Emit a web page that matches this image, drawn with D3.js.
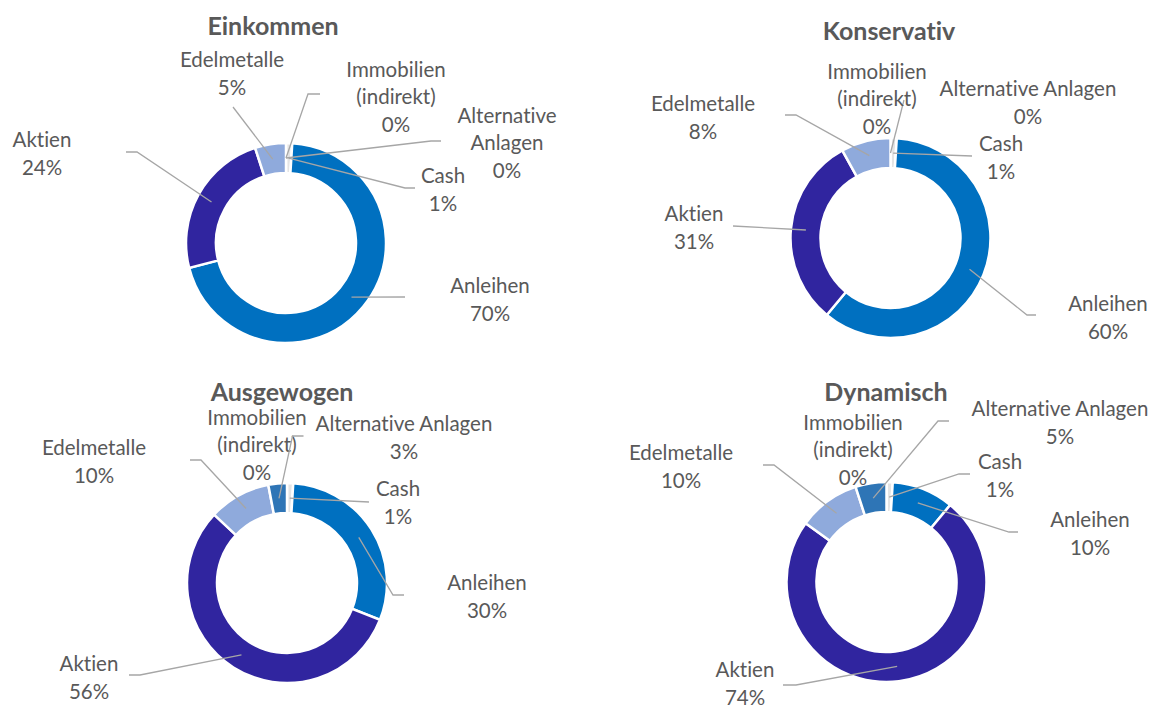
<!DOCTYPE html>
<html lang="de">
<head>
<meta charset="utf-8"/>
<style>
  body { margin: 0; background: #FFFFFF; }
  svg { display: block; }
  text { font-variant-ligatures: none; font-feature-settings: "liga" 0, "clig" 0; }
  .title { font-family: "Lato", "Open Sans", sans-serif; font-weight: bold; font-size: 25px; fill: #595959; }
  .lbl { font-family: "Lato", "Open Sans", sans-serif; font-size: 20.5px; fill: #595959; }
  .leader { fill: none; stroke: #A6A6A6; stroke-width: 1.3; }
</style>
</head>
<body>
<svg id="chart" width="1154" height="709"></svg>

<script src="https://d3js.org/d3.v7.min.js"></script>
<script>
// data (percent of each portfolio)
let categories = ["Cash", "Anleihen", "Aktien", "Edelmetalle", "Immobilien (indirekt)", "Alternative Anlagen"]
let portfolios = ["Einkommen", "Konservativ", "Ausgewogen", "Dynamisch"]
let einkommen   = [1, 70, 24, 5, 0, 0]
let konservativ = [1, 60, 31, 8, 0, 0]
let ausgewogen  = [1, 30, 56, 10, 0, 3]
let dynamisch   = [1, 10, 74, 10, 0, 5]
let values = [einkommen, konservativ, ausgewogen, dynamisch]

let colors = ["#E4E4E4", "#0070C0", "#30259F", "#8FAADC", "#A5A5A5", "#2E75B6"]

// where each donut and its labels sit (label x/y = middle of the text block)
let layout = [
  { cx: 286, cy: 243, title: [273, 25], labels: [
      { x: 443, y: 189, lines: ["Cash"], leader: [[405, 188], [415, 188]] },
      { x: 490, y: 299, lines: ["Anleihen"], leader: [[405, 297]] },
      { x: 42, y: 153, lines: ["Aktien"], leader: [[137, 152], [126, 152]] },
      { x: 232, y: 73, lines: ["Edelmetalle"], leader: [[233, 107]] },
      { x: 396, y: 96, lines: ["Immobilien", "(indirekt)"], leader: [[308, 94], [320, 94]] },
      { x: 507, y: 142, lines: ["Alternative", "Anlagen"], leader: [[431, 141], [441, 141]] } ] },
  { cx: 890.5, cy: 238, title: [889, 30], labels: [
      { x: 1001, y: 157, lines: ["Cash"], leader: [[972, 156]] },
      { x: 1108, y: 317, lines: ["Anleihen"], leader: [[1027, 315], [1036, 315]] },
      { x: 694, y: 227, lines: ["Aktien"], leader: [[733, 226]] },
      { x: 703, y: 117, lines: ["Edelmetalle"], leader: [[796, 115], [785, 115]] },
      { x: 877, y: 98, lines: ["Immobilien", "(indirekt)"], leader: [[904, 100]] },
      { x: 1028, y: 102, lines: ["Alternative Anlagen"], leader: null } ] },
  { cx: 287, cy: 583, title: [282, 391], labels: [
      { x: 398, y: 502, lines: ["Cash"], leader: [[369, 502]] },
      { x: 487, y: 596, lines: ["Anleihen"], leader: [[393, 595], [404, 595]] },
      { x: 89, y: 677, lines: ["Aktien"], leader: [[140, 675], [129, 675]] },
      { x: 94, y: 461, lines: ["Edelmetalle"], leader: [[201, 460], [190, 460]] },
      { x: 257, y: 444, lines: ["Immobilien", "(indirekt)"], leader: null },
      { x: 404, y: 437, lines: ["Alternative Anlagen"], leader: [[292.5, 436], [303.5, 436]] } ] },
  { cx: 886.5, cy: 582, title: [886, 391], labels: [
      { x: 1000, y: 475, lines: ["Cash"], leader: [[959, 474], [970, 474]] },
      { x: 1090, y: 533, lines: ["Anleihen"], leader: [[1009, 532], [1018, 532]] },
      { x: 745, y: 683, lines: ["Aktien"], leader: [[796, 685], [783, 685]] },
      { x: 681, y: 466, lines: ["Edelmetalle"], leader: [[774, 465], [763, 465]] },
      { x: 853, y: 449, lines: ["Immobilien", "(indirekt)"], leader: null },
      { x: 1060, y: 422, lines: ["Alternative Anlagen"], leader: [[938, 421], [949, 421]] } ] }
]

let svg = d3.select("#chart")
let lineH = 27.5

let pie = d3.pie().sort(null).value(d => d.v)
let arc = d3.arc().innerRadius(70).outerRadius(100)
let mid = d3.arc().innerRadius(85).outerRadius(85)
let color = d3.scaleOrdinal().domain(categories).range(colors)

portfolios.forEach((name, i) => {
  let L = layout[i]
  let rows = categories.map((c, j) => ({ cat: c, v: values[i][j], j: j }))
  let arcs = pie(rows)

  let g = svg.append("g").attr("transform", "translate(" + L.cx + "," + L.cy + ")")
  g.selectAll("path")
    .data(arcs.filter(d => d.data.v > 0))
    .enter()
    .append("path")
    .attr("d", arc)
    .attr("fill", d => color(d.data.cat))
    .attr("stroke", "#FFFFFF")
    .attr("stroke-width", 2.5)

  svg.append("text")
    .attr("class", "title")
    .attr("x", L.title[0]).attr("y", L.title[1])
    .attr("text-anchor", "middle")
    .attr("dominant-baseline", "central")
    .text(name)

  arcs.forEach(d => {
    let lab = L.labels[d.data.j]
    if (lab.leader) {
      let c = mid.centroid(d)
      let pts = [[L.cx + c[0], L.cy + c[1]]].concat(lab.leader)
      svg.append("path").attr("class", "leader").attr("d", d3.line()(pts))
    }
    let lines = lab.lines.concat([d.data.v + "%"])
    let t = svg.append("text").attr("class", "lbl").attr("text-anchor", "middle")
    lines.forEach((s, k) => {
      t.append("tspan")
        .attr("x", lab.x)
        .attr("y", lab.y + (k - (lines.length - 1) / 2) * lineH)
        .attr("dominant-baseline", "central")
        .text(s)
    })
  })
})
</script>
</body>
</html>
